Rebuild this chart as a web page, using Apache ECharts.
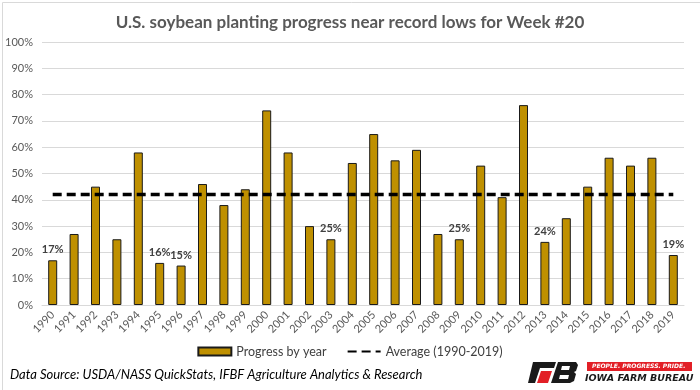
<!DOCTYPE html>
<html><head><meta charset="utf-8">
<script src="https://cdn.jsdelivr.net/npm/echarts@6/dist/echarts.min.js"></script>
<style>html,body{margin:0;padding:0;background:#fff}#c{width:700px;height:390px}</style>
</head><body><div id="c"></div>
<script>
const years = ['1990','1991','1992','1993','1994','1995','1996','1997','1998','1999','2000','2001','2002','2003','2004','2005','2006','2007','2008','2009','2010','2011','2012','2013','2014','2015','2016','2017','2018','2019'];
const progress = [17,27,45,25,58,16,15,46,38,44,74,58,30,25,54,65,55,59,27,25,53,41,76,24,33,45,56,53,56,19];
const average = [42,42,42,42,42,42,42,42,42,42,42,42,42,42,42,42,42,42,42,42,42,42,42,42,42,42,42,42,42,42];
const labeledYears = ['1990','1995','1996','2003','2009','2013','2019'];
const yTicks = [0,10,20,30,40,50,60,70,80,90,100];

const chart = echarts.init(document.getElementById('c'));
const F = 'Lato, "Open Sans", sans-serif';
chart.setOption({
  animation: false,
  textStyle: {fontFamily: F},
  title: {
    text: 'U.S. soybean planting progress near record lows for Week #20',
    left: 'center', top: 9,
    textStyle: {fontFamily: F, fontSize: 17, fontWeight: 'bold', color: '#595959'}
  },
  grid: {left: 42, right: 16, top: 42, bottom: 85},
  legend: {
    bottom: 27, left: 'center', itemGap: 20, itemWidth: 33, itemHeight: 8,
    textStyle: {fontFamily: F, fontSize: 12.5, color: '#404040'},
    data: [
      {name: 'Progress by year', icon: 'rect'},
      {name: 'Average (1990-2019)', itemStyle: {opacity: 0}}
    ]
  },
  xAxis: {
    type: 'category', data: years,
    axisLine: {lineStyle: {color: '#d9d9d9'}},
    axisTick: {show: false},
    axisLabel: {rotate: 45, fontSize: 11, color: '#595959', interval: 0, margin: 8}
  },
  yAxis: {
    type: 'value', min: yTicks[0], max: yTicks[yTicks.length-1], interval: 10,
    axisLabel: {formatter: '{value}%', fontSize: 11, color: '#595959', margin: 9},
    splitLine: {lineStyle: {color: '#d9d9d9'}},
    axisLine: {show: false}, axisTick: {show: false}
  },
  series: [
    {
      name: 'Progress by year', type: 'bar', data: progress,
      barWidth: 9,
      itemStyle: {color: '#BF9000', borderColor: '#1a1a1a', borderWidth: 1},
      label: {
        show: true, position: 'top', distance: 5,
        fontSize: 11, fontWeight: 'bold', color: '#404040',
        formatter: p => labeledYears.includes(p.name) ? p.value + '%' : ''
      }
    },
    {
      name: 'Average (1990-2019)', type: 'line', data: average,
      symbol: 'none', z: 5,
      lineStyle: {color: '#000', width: 3.5, type: [9, 5]},
      itemStyle: {color: '#000'}
    }
  ],
  graphic: [
    {type: 'rect', left: 0, top: 0, shape: {x: 0.5, y: 0.5, width: 699, height: 389}, style: {fill: 'none', stroke: '#d9d9d9', lineWidth: 1}, silent: true},
    {type: 'text', left: 10, top: 368, style: {text: 'Data Source: USDA/NASS QuickStats, IFBF Agriculture Analytics & Research', fontFamily: F, fontStyle: 'italic', fontSize: 13, fill: '#000'}},
    // FB logo
    {type: 'polygon', shape: {points: [[533,362],[556,362],[554,368],[540,368],[535,383],[528,383]]}, style: {fill: '#1a1a1a'}},
    {type: 'polygon', shape: {points: [[541,371],[552,371],[548,383],[537,383]]}, style: {fill: '#e21f26'}},
    {type: 'polygon', shape: {points: [[558,362],[576,362],[578,365],[576,371],[574,372],[576,374],[574,381],[570,383],[551,383]]}, style: {fill: '#1a1a1a'}},
    {type: 'polygon', shape: {points: [[562,366],[570,366],[569,370],[561,370]]}, style: {fill: '#fff'}},
    {type: 'polygon', shape: {points: [[560,375],[569,375],[568,379],[559,379]]}, style: {fill: '#fff'}},
    {type: 'rect', shape: {x: 587, y: 362, width: 105, height: 9}, style: {fill: '#e21f26'}},
    {type: 'text', left: 592, top: 363, style: {text: 'PEOPLE. PROGRESS. PRIDE.', fontFamily: '"DejaVu Sans", sans-serif', fontStyle: 'italic', fontWeight: 'bold', fontSize: 6, fill: '#fff'}},
    {type: 'text', left: 585, top: 374, style: {text: 'IOWA FARM BUREAU', fontFamily: '"DejaVu Sans", sans-serif', fontStyle: 'italic', fontWeight: 'bold', fontSize: 9.5, fill: '#1a1a1a'}}
  ]
});
</script></body></html>
